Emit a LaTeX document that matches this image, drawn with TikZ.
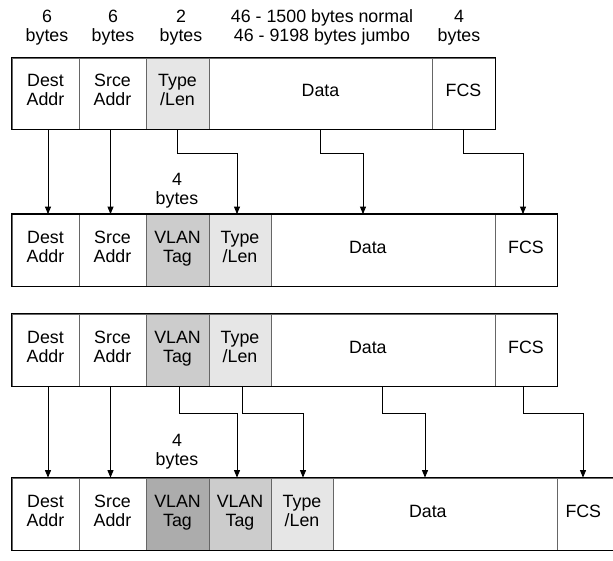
\documentclass[tikz,border=0pt]{standalone}
\usepackage{fontspec}
\setmainfont{Liberation Sans}
\usetikzlibrary{arrows.meta}
\definecolor{tl}{HTML}{E6E6E6}
\definecolor{vl}{HTML}{CCCCCC}
\definecolor{vd}{HTML}{ACACAC}
\definecolor{dv}{HTML}{666666}
\begin{document}
\begin{tikzpicture}[x=1pt,y=-1pt,
 fld/.style={draw=dv, line width=0.8pt, inner sep=0pt, text width=50pt, align=center,
   font=\fontsize{17.8}{19}\selectfont, text height=13pt},
 two/.style={fld, text depth=26.5pt},
 one/.style={fld, text depth=6.8pt},
 wide/.style={text width=120pt},
 lbl/.style={inner sep=0pt, align=center, font=\fontsize{17.8}{19}\selectfont},
 frame/.style={draw=black, line width=1.3pt},
 arr/.style={draw=black, line width=0.9pt, -{Triangle[length=7.5pt,width=6pt]}},
]
\useasboundingbox (0,0) rectangle (613,560);

% size labels
\node[lbl] (t1) at (47,27.7) {6\\bytes};
\node[lbl] (t2) at (113,27.7) {6\\bytes};
\node[lbl] (t3) at (181,27.7) {2\\bytes};
\node[lbl] (t4) at (322,27.7) {46 - 1500 bytes normal\\46 - 9198 bytes jumbo};
\node[lbl] (t5) at (459,27.7) {4\\bytes};

% row 1
\node[two, minimum width=67pt, minimum height=71pt] (r1dest) at (45.5,93.5) {Dest\\Addr};
\node[two, minimum width=67pt, minimum height=71pt] (r1srce) at (112.5,93.5) {Srce\\Addr};
\node[two, fill=tl, minimum width=63pt, minimum height=71pt] (r1type) at (177.5,93.5) {Type\\/Len};
\node[one, wide, minimum width=223pt, minimum height=71pt] (r1data) at (320.5,93.5) {Data};
\node[one, minimum width=63pt, minimum height=71pt] (r1fcs) at (463.5,93.5) {FCS};
\draw[frame] (r1dest.north west) rectangle (r1fcs.south east);

% row 2
\node[lbl] (t6) at (177,190.5) {4\\bytes};
\node[two, minimum width=67pt, minimum height=71.5pt] (r2dest) at (45.5,250.25) {Dest\\Addr};
\node[two, minimum width=67pt, minimum height=71.5pt] (r2srce) at (112.5,250.25) {Srce\\Addr};
\node[two, fill=vl, minimum width=63pt, minimum height=71.5pt] (r2vlan) at (177.5,250.25) {VLAN\\Tag};
\node[two, fill=tl, minimum width=62pt, minimum height=71.5pt] (r2type) at (240,250.25) {Type\\/Len};
\node[one, wide, minimum width=224pt, minimum height=71.5pt] (r2data) at (383,250.25) {\makebox[68pt][l]{Data}};
\node[one, minimum width=62pt, minimum height=71.5pt] (r2fcs) at (526,250.25) {FCS};
\draw[frame] (r2dest.north west) rectangle (r2fcs.south east);

% row 3
\node[two, minimum width=67pt, minimum height=72pt] (r3dest) at (45.5,350) {Dest\\Addr};
\node[two, minimum width=67pt, minimum height=72pt] (r3srce) at (112.5,350) {Srce\\Addr};
\node[two, fill=vl, minimum width=63pt, minimum height=72pt] (r3vlan) at (177.5,350) {VLAN\\Tag};
\node[two, fill=tl, minimum width=62pt, minimum height=72pt] (r3type) at (240,350) {Type\\/Len};
\node[one, wide, minimum width=224pt, minimum height=72pt] (r3data) at (383,350) {\makebox[68pt][l]{Data}};
\node[one, minimum width=62pt, minimum height=72pt] (r3fcs) at (526,350) {FCS};
\draw[frame] (r3dest.north west) rectangle (r3fcs.south east);

% row 4
\node[lbl] (t7) at (177,452) {4\\bytes};
\node[two, minimum width=67pt, minimum height=72pt] (r4dest) at (45.5,514) {Dest\\Addr};
\node[two, minimum width=67pt, minimum height=72pt] (r4srce) at (112.5,514) {Srce\\Addr};
\node[two, fill=vd, minimum width=63pt, minimum height=72pt] (r4vlana) at (177.5,514) {VLAN\\Tag};
\node[two, fill=vl, minimum width=62pt, minimum height=72pt] (r4vlanb) at (240,514) {VLAN\\Tag};
\node[two, fill=tl, minimum width=62pt, minimum height=72pt] (r4type) at (302,514) {Type\\/Len};
\node[one, wide, minimum width=224pt, minimum height=72pt] (r4data) at (445,514) {\makebox[72pt][l]{Data}};
\node[one, minimum width=62pt, minimum height=72pt] (r4fcs) at (588,514) {\makebox[45pt][l]{FCS}};
\draw[frame] (r4dest.north west) rectangle (r4fcs.south east);

% connectors row 1 -> row 2
\draw[arr] ([xshift=2.5pt]r1dest.south) -- ([xshift=2.5pt]r2dest.north);
\draw[arr] ([xshift=-2pt]r1srce.south) -- ([xshift=-2pt]r2srce.north);
\draw[arr] (r1type.south) -- ++(0,23.7) -| ([xshift=-3pt]r2type.north);
\draw[arr] (r1data.south) -- ++(0,23.7) -| ([xshift=-20pt]r2data.north);
\draw[arr] (r1fcs.south) -- ++(0,23.7) -| ([xshift=-3pt]r2fcs.north);

% connectors row 3 -> row 4
\draw[arr] ([xshift=2.5pt]r3dest.south) -- ([xshift=2.5pt]r4dest.north);
\draw[arr] ([xshift=-2pt]r3srce.south) -- ([xshift=-2pt]r4srce.north);
\draw[arr] ([xshift=2pt]r3vlan.south) -- ++(0,26.7) -| ([xshift=-3pt]r4vlanb.north);
\draw[arr] ([xshift=2pt]r3type.south) -- ++(0,26.7) -| ([xshift=1pt]r4type.north);
\draw[arr] ([xshift=-1pt]r3data.south) -- ++(0,26.7) -| ([xshift=-20pt]r4data.north);
\draw[arr] ([xshift=-3pt]r3fcs.south) -- ++(0,26.7) -| ([xshift=-5pt]r4fcs.north);
\end{tikzpicture}
\end{document}
